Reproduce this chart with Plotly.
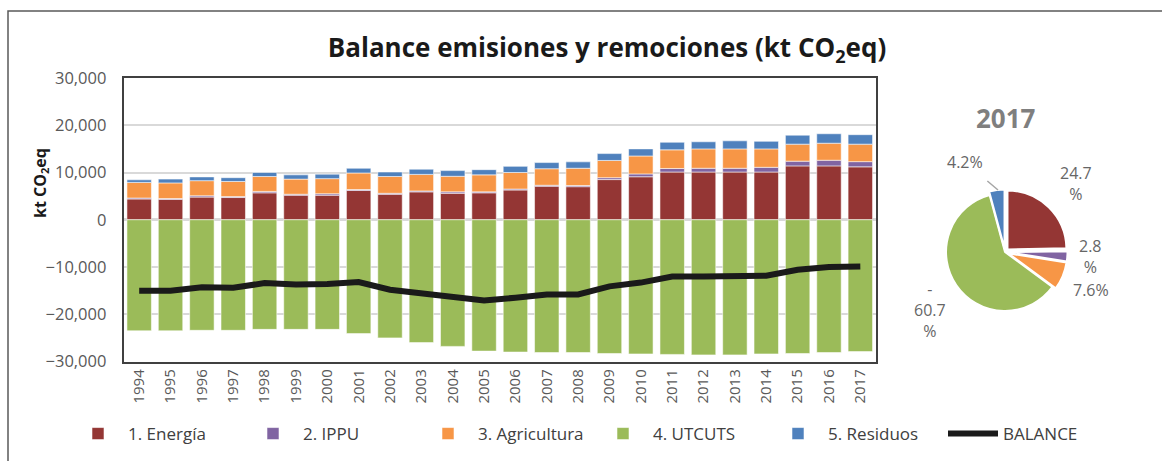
import plotly.graph_objects as go

years = [str(y) for y in range(1994, 2018)]

energia = [4400, 4300, 4800, 4700, 5700, 5200, 5200, 6200, 5400, 5900, 5600, 5700,
           6300, 7100, 7000, 8500, 9100, 10100, 10100, 10100, 10100, 11400, 11400, 11200]
ippu = [200, 200, 270, 200, 300, 200, 300, 200, 200, 200, 300, 200,
        200, 200, 250, 400, 600, 750, 800, 800, 1000, 1000, 1200, 1100]
agricultura = [3300, 3300, 3200, 3200, 3150, 3200, 3200, 3500, 3550, 3500, 3300, 3600,
               3500, 3500, 3650, 3650, 3800, 3950, 4100, 4100, 3900, 3600, 3600, 3700]
utcuts = [-23500, -23500, -23400, -23400, -23200, -23200, -23200, -24100, -25000, -26000, -26800, -27800,
          -28000, -28100, -28100, -28300, -28400, -28500, -28600, -28600, -28400, -28300, -28100, -27900]
residuos = [550, 800, 800, 800, 850, 900, 950, 1000, 950, 1100, 1200, 1100,
            1300, 1300, 1350, 1450, 1500, 1600, 1500, 1700, 1600, 1900, 2000, 2000]
balance = [-15000, -15000, -14300, -14400, -13400, -13700, -13600, -13200, -14800, -15500, -16400, -17100,
           -16500, -15800, -15800, -14100, -13300, -12000, -12000, -11950, -11850, -10600, -10000, -9900]

series_names = ["1. Energía", "2. IPPU", "3. Agricultura", "4. UTCUTS", "5. Residuos"]
series_colors = ["#943634", "#8064A2", "#F79646", "#9BBB59", "#4F81BD"]
series_values = [energia, ippu, agricultura, utcuts, residuos]

pie_year = "2017"
pie_pct = [24.7, 2.8, 7.6, 60.7, 4.2]
pie_text = ["24.7<br>%", "2.8<br>%", "7.6%", "-<br>60.7<br>%", "4.2%"]

W, H = 1162, 461
def px(x):
    return x / W
def py(y):
    return 1 - y / H

FONT = "Open Sans, Arial, sans-serif"

fig = go.Figure()
for name, color, vals in zip(series_names, series_colors, series_values):
    fig.add_trace(go.Bar(
        x=years, y=vals, name=name,
        marker=dict(color=color, line=dict(color="rgba(255,255,255,0.55)", width=1)),
        xaxis="x", yaxis="y",
    ))
fig.add_trace(go.Scatter(
    x=years, y=balance, name="BALANCE", mode="lines",
    line=dict(color="#1a1a1a", width=6),
    xaxis="x", yaxis="y",
))

fig.add_trace(go.Pie(
    values=pie_pct, labels=series_names,
    marker=dict(colors=series_colors, line=dict(color="white", width=2)),
    sort=False, direction="clockwise", rotation=0,
    pull=[0.06, 0.06, 0.06, 0, 0.06],
    textinfo="none", hoverinfo="label+percent",
    showlegend=False,
    domain=dict(x=[px(942.5), px(1067.5)], y=[py(314.5), py(189.5)]),
))

annotations = [
    dict(text="<b>kt CO<sub>2</sub>eq</b>", x=px(40), y=py(183), xref="paper", yref="paper",
         textangle=-90, showarrow=False,
         font=dict(family=FONT, size=16, color="#1a1a1a"),
         xanchor="center", yanchor="middle"),
    dict(text="<b>" + pie_year + "</b>", x=px(1006), y=py(118), xref="paper", yref="paper",
         showarrow=False, font=dict(family=FONT, size=26, color="#7f7f7f"),
         xanchor="center", yanchor="middle"),
]
label_pos = [(1076, 183), (1090, 256), (1091, 290), (930, 310)]
pie_font = dict(family=FONT, size=16, color="#666666")
for t, (lx, ly) in zip(pie_text[:4], label_pos):
    annotations.append(dict(text=t, x=px(lx), y=py(ly), xref="paper", yref="paper",
                            showarrow=False, font=pie_font, align="center",
                            xanchor="center", yanchor="middle"))
annotations.append(dict(text=pie_text[4], x=px(998), y=py(190), xref="paper", yref="paper",
                        ax=-33, ay=-28, showarrow=True, arrowhead=0, arrowwidth=1.5,
                        arrowcolor="#a6a6a6", font=pie_font, standoff=0, startstandoff=10))

fig.update_layout(
    width=W, height=H,
    margin=dict(l=0, r=0, t=0, b=0, autoexpand=False),
    paper_bgcolor="white", plot_bgcolor="white",
    barmode="relative", bargap=0.22,
    title=dict(text="<b>Balance emisiones y remociones (kt CO<sub>2</sub>eq)</b>",
               x=px(607), xanchor="center", y=py(48), yanchor="middle",
               font=dict(family=FONT, size=26, color="#1a1a1a")),
    xaxis=dict(domain=[px(123.5), px(876)], type="category", tickangle=-90,
               tickfont=dict(family=FONT, size=15, color="#595959"),
               showgrid=False, showline=True, linecolor="#404040",
               linewidth=1.5, mirror=True, ticks="", anchor="y"),
    yaxis=dict(domain=[py(361.5), py(78)], range=[-30000, 30000], dtick=10000,
               tickformat=",", tickfont=dict(family=FONT, size=16.5, color="#595959"),
               showgrid=True, gridcolor="#d9d9d9",
               gridwidth=1.5, zeroline=True, zerolinecolor="#d9d9d9", zerolinewidth=2.5,
               showline=True, linecolor="#404040", linewidth=1.5, mirror=True, ticks="",
               ticklabelstandoff=12, anchor="x"),
    legend=dict(orientation="h", x=px(593), xanchor="center", y=py(434), yanchor="middle",
                font=dict(family=FONT, size=17, color="#404040"),
                itemwidth=50, entrywidth=110, entrywidthmode="pixels", traceorder="normal"),
    annotations=annotations,
    shapes=[dict(type="path", xref="paper", yref="paper",
                 path=f"M {px(8)},0 L {px(8)},{py(11)} L 1,{py(11)}",
                 line=dict(color="#595959", width=1.5))],
)

fig.write_html("out.html", config={"displayModeBar": False},
               post_script="document.body.style.margin='0';document.body.style.overflow='hidden';")
